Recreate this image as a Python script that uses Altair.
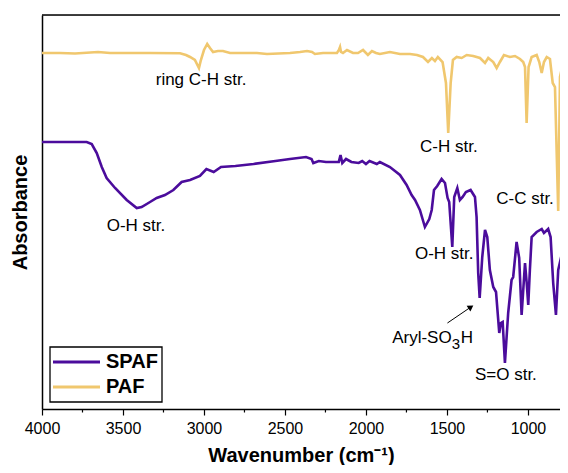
import altair as alt
import pandas as pd

FONT = "Liberation Sans"
PURPLE = "#4B0C9C"
YELLOW = "#F0C76E"

# PAF spectrum (wavenumber, absorbance in arbitrary units)
paf_wn = [4000, 3889, 3796, 3654, 3580, 3333, 3148, 3111, 3086, 3056, 3031, 3019, 3000, 2980, 2963,
          2944, 2914, 2883, 2839, 2673, 2611, 2469, 2407, 2364, 2333, 2315, 2265, 2179, 2167, 2160,
          2154, 2142, 2117, 2080, 2049, 2018, 1988, 1963, 1938, 1914, 1852, 1790, 1728, 1685, 1648,
          1617, 1593, 1574, 1556, 1527, 1506, 1492, 1477, 1463, 1440, 1409, 1378, 1338, 1296, 1265,
          1245, 1214, 1193, 1173, 1148, 1111, 1080, 1049, 1029, 1018, 1008, 996, 977, 946, 930,
          915, 901, 884, 864, 847, 833, 813, 802, 786, 772, 755]
paf_abs = [356, 356, 355.5, 357, 356, 356, 355.7, 354, 352, 349, 341, 349, 359, 365, 361,
           357, 358, 358, 356, 356, 355, 356, 357, 358, 357, 355, 356, 356, 359, 362,
           357, 356, 359, 356, 356, 359, 354, 358, 356, 355, 357, 355, 355, 354, 352,
           347, 351, 348, 352, 347, 326, 276, 326, 349, 352, 351, 354, 353, 351, 346,
           351, 347, 341, 347, 354, 352, 353, 350, 347, 342, 286, 342, 352, 354, 347,
           336, 347, 352, 350, 326, 322, 198, 332, 344, 337, 319]

# SPAF spectrum
spaf_wn = [4000, 3889, 3724, 3693, 3662, 3631, 3601, 3549, 3477, 3415, 3385, 3333, 3292, 3241, 3189,
           3138, 3086, 3025, 2985, 2940, 2895, 2806, 2694, 2559, 2469, 2370, 2336, 2325, 2291, 2247,
           2168, 2157, 2146, 2123, 2090, 2045, 2023, 2000, 1978, 1933, 1914, 1852, 1790, 1749, 1718,
           1697, 1667, 1636, 1609, 1594, 1580, 1560, 1533, 1512, 1496, 1486, 1467, 1455, 1436, 1420,
           1403, 1383, 1354, 1327, 1317, 1307, 1298, 1282, 1265, 1251, 1235, 1214, 1197, 1177, 1167,
           1156, 1142, 1122, 1101, 1091, 1070, 1054, 1039, 1018, 1008, 998, 988, 977, 946, 915,
           901, 875, 860, 844, 827, 813, 792, 778, 765, 751]
spaf_abs = [267, 267, 267, 265, 256, 242, 231, 221, 209, 201, 202, 207, 211, 214, 219,
            227, 229, 233, 240, 237, 242, 243, 245, 248, 250, 252, 250, 246, 248, 247,
            247, 254, 246, 250, 247, 246, 248, 245, 248, 245, 247, 242, 234, 224, 214,
            209, 199, 182, 190, 199, 219, 223, 230, 226, 211, 207, 162, 212, 221, 209,
            212, 217, 219, 212, 192, 136, 111, 152, 179, 172, 139, 122, 117, 76, 86,
            87, 46, 96, 129, 132, 167, 151, 94, 146, 127, 104, 139, 172, 177, 180,
            176, 180, 172, 126, 94, 139, 154, 151, 132, 117]

x_ticks = [4000, 3500, 3000, 2500, 2000, 1500, 1000]
minor_ticks = [3750, 3250, 2750, 2250, 1750, 1250]

ann_text = ["ring C-H str.", "C-H str.", "C-C str.", "O-H str.", "O-H str.", "S=O str."]
ann_wn = [3018, 1488, 1018, 3420, 1517, 1136]
ann_v = [329, 262, 210, 183, 155, 34]

# "Aryl-SO3H" label pieces anchored at the end of "Aryl-SO"
aryl_wn = [1471]
aryl_v = [71]

arrow_wn = [1497]
arrow_v = [86]
arrow_wn2 = [1352]
arrow_v2 = [102]

legend_labels = ["SPAF", "PAF"]
legend_colors = [PURPLE, YELLOW]

df = pd.concat([
    pd.DataFrame({"wn": spaf_wn, "v": spaf_abs, "sample": "SPAF"}),
    pd.DataFrame({"wn": paf_wn, "v": paf_abs, "sample": "PAF"}),
])

W, H = 518, 394
xs = alt.Scale(domain=[4000, 802], nice=False, zero=False)
ys = alt.Scale(domain=[0, 394], nice=False, zero=False)

x_axis = alt.Axis(values=x_ticks, format="d", title="Wavenumber (cm\u207b\u00b9)",
                  titleFontSize=20, titleFontWeight="bold", titleFont=FONT, titleColor="black",
                  labelFontSize=16, labelFont=FONT, labelColor="black", labelPadding=5,
                  tickSize=6, tickColor="black", tickWidth=1.2, domainColor="black",
                  domainWidth=1.5, grid=False, titlePadding=9, labelFlush=False,
                  labelOverlap=False)
y_axis = alt.Axis(title="Absorbance", labels=False, ticks=False, grid=False,
                  domainColor="black", domainWidth=1.5, titleFontSize=20,
                  titleFontWeight="bold", titleFont=FONT, titleColor="black", titlePadding=12)

x_enc = alt.X("wn:Q", scale=xs, axis=x_axis)
y_enc = alt.Y("v:Q", scale=ys, axis=y_axis)

lines = alt.Chart(df).mark_line(strokeWidth=2.6, clip=True).encode(
    x=x_enc, y=y_enc,
    color=alt.Color("sample:N",
                    scale=alt.Scale(domain=legend_labels, range=legend_colors),
                    legend=None),
)

minor = alt.Chart(pd.DataFrame({"wn": minor_ticks})).mark_rule(
    color="black", strokeWidth=1.2).encode(
    x=x_enc, y=alt.value(H), y2=alt.value(H + 3.5))

one = pd.DataFrame({"k": [0]})
top = alt.Chart(one).mark_rule(color="black", strokeWidth=1.5).encode(
    x=alt.value(0), x2=alt.value(W), y=alt.value(0))

ann = alt.Chart(pd.DataFrame({"wn": ann_wn, "v": ann_v, "label": ann_text})).mark_text(
    font=FONT, fontSize=17, color="black", align="center", baseline="middle").encode(
    x=x_enc, y=y_enc, text="label:N")

aryl_df = pd.DataFrame({"wn": aryl_wn, "v": aryl_v})
aryl1 = alt.Chart(aryl_df).mark_text(
    font=FONT, fontSize=17, color="black", align="right", baseline="middle",
    text="Aryl-SO").encode(x=x_enc, y=y_enc)
aryl2 = alt.Chart(aryl_df).mark_text(
    font=FONT, fontSize=15, color="black", align="left", baseline="middle",
    text="3", dx=0, dy=6).encode(x=x_enc, y=y_enc)
aryl3 = alt.Chart(aryl_df).mark_text(
    font=FONT, fontSize=17, color="black", align="left", baseline="middle",
    text="H", dx=9).encode(x=x_enc, y=y_enc)

arrow_df = pd.DataFrame({"wn": arrow_wn, "v": arrow_v, "wn2": arrow_wn2, "v2": arrow_v2})
arrow_line = alt.Chart(arrow_df).mark_rule(color="black", strokeWidth=1).encode(
    x=x_enc, y=y_enc, x2="wn2:Q", y2="v2:Q")
arrow_head = alt.Chart(arrow_df).mark_point(
    shape="triangle-up", filled=True, color="black", size=45, angle=56, opacity=1).encode(
    x=alt.X("wn2:Q", scale=xs, axis=x_axis), y=alt.Y("v2:Q", scale=ys, axis=y_axis))

# legend box (drawn as a frame in the plot's corner)
leg_box = alt.Chart(one).mark_rect(fill="white", stroke="black", strokeWidth=1.3).encode(
    x=alt.value(8), x2=alt.value(120), y=alt.value(332), y2=alt.value(387))
leg_layers = []
for i, (lab, col) in enumerate(zip(legend_labels, legend_colors)):
    yy = 347 + 25 * i
    leg_layers.append(alt.Chart(one).mark_rule(color=col, strokeWidth=3).encode(
        x=alt.value(11), x2=alt.value(58), y=alt.value(yy)))
    leg_layers.append(alt.Chart(one).mark_text(
        font=FONT, fontSize=20, fontWeight="bold", color="black", align="left",
        baseline="middle", text=lab).encode(x=alt.value(64), y=alt.value(yy)))

chart = alt.layer(lines, minor, top, ann, aryl1, aryl2, aryl3, arrow_line, arrow_head,
                  leg_box, *leg_layers).properties(
    width=W, height=H,
    autosize=alt.AutoSizeParams(type="none"),
    padding={"left": 34, "top": 7, "right": 0, "bottom": 56},
).configure_view(stroke=None).configure(background="white")

chart.save("out.html", embed_options={"renderer": "svg", "actions": False})
